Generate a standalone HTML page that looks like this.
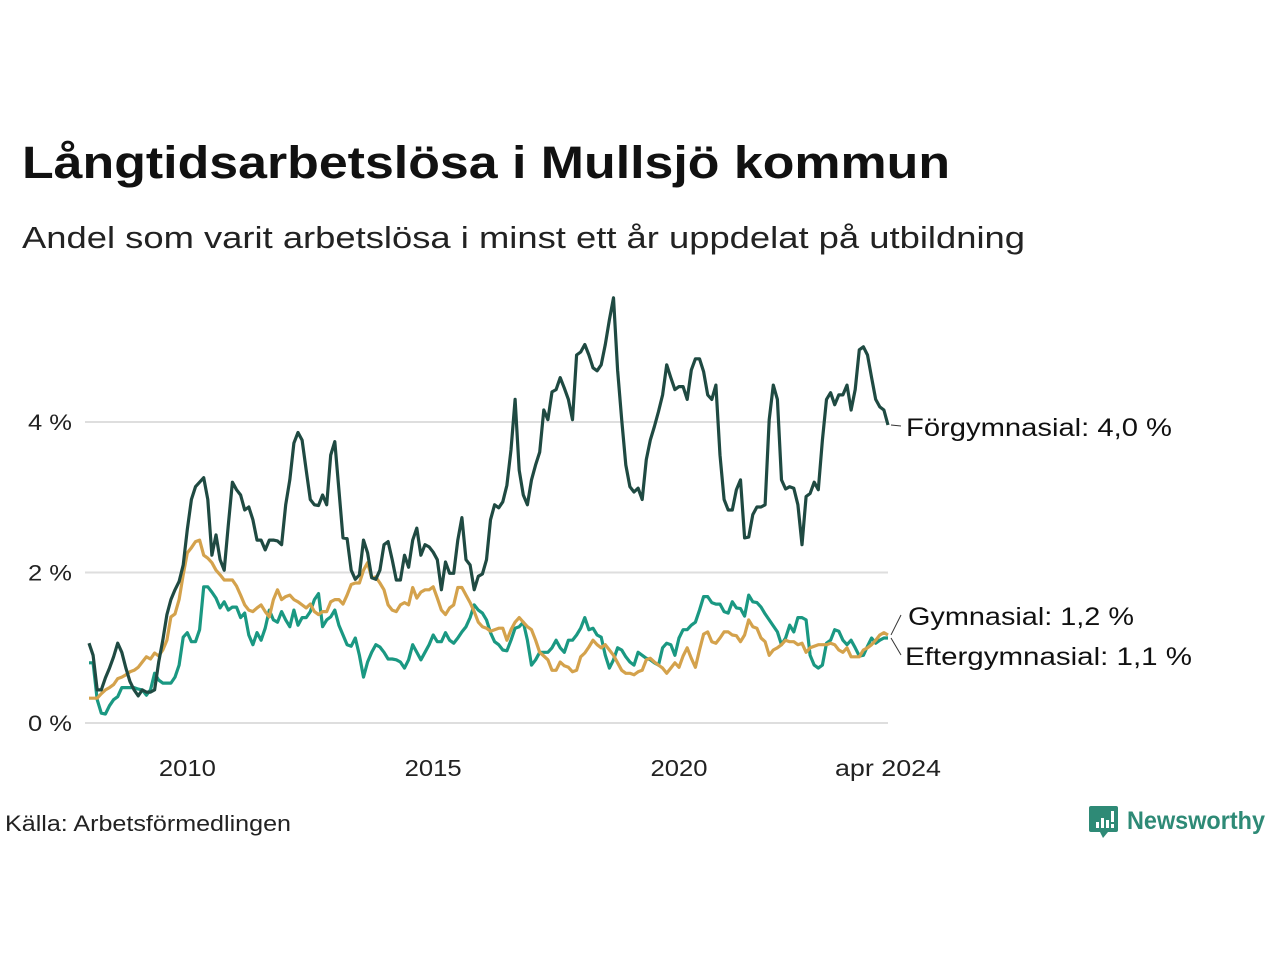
<!DOCTYPE html>
<html><head><meta charset="utf-8"><style>
html,body{margin:0;padding:0;background:#fff;}
svg{display:block;font-family:"Liberation Sans","DejaVu Sans",sans-serif;}
</style></head><body>
<svg id="chart" width="1280" height="960" viewBox="0 0 1280 960">
<text x="22" y="178" font-size="45" font-weight="bold" fill="#111" textLength="928" lengthAdjust="spacingAndGlyphs">Långtidsarbetslösa i Mullsjö kommun</text>
<text x="22" y="248" font-size="31" fill="#222" textLength="1003" lengthAdjust="spacingAndGlyphs">Andel som varit arbetslösa i minst ett år uppdelat på utbildning</text>
<g id="grid"></g>
<g id="yticks"></g>
<g id="xticks"></g>
<g id="lines"></g>
<g id="labels"></g>
<text x="5" y="831" font-size="22" fill="#222" textLength="286" lengthAdjust="spacingAndGlyphs">Källa: Arbetsförmedlingen</text>
<g>
<path d="M1091 806h25a2 2 0 0 1 2 2v22a2 2 0 0 1-2 2h-8l-5 6l-3-6h-9a2 2 0 0 1-2-2v-22a2 2 0 0 1 2-2z" fill="#2e8a76"/>
<rect x="1096" y="822" width="3" height="6" fill="#fff"/><rect x="1101" y="818" width="3" height="10" fill="#fff"/><rect x="1106" y="820" width="3" height="8" fill="#fff"/><rect x="1111" y="811" width="3" height="11" fill="#fff"/><rect x="1111" y="824" width="3" height="4" fill="#fff"/>
<text x="1127" y="829" font-size="25" font-weight="bold" fill="#2e8a76" textLength="138" lengthAdjust="spacingAndGlyphs">Newsworthy</text>
</g>
</svg>
<script>
const startYear = 2008;
const yTicks = [0, 2, 4];
const yTickLabels = ["0 %", "2 %", "4 %"];
const xTickMonths = [24, 84, 144, 195];
const xTickLabels = ["2010", "2015", "2020", "apr 2024"];
const forgymnasial = [1.06,0.90,0.44,0.44,0.60,0.73,0.88,1.06,0.94,0.73,0.55,0.44,0.36,0.44,0.41,0.41,0.44,0.81,1.10,1.44,1.64,1.77,1.88,2.10,2.57,2.97,3.14,3.20,3.26,2.97,2.23,2.50,2.17,2.03,2.63,3.20,3.10,3.03,2.83,2.87,2.70,2.43,2.43,2.30,2.43,2.43,2.42,2.37,2.90,3.23,3.72,3.86,3.76,3.36,2.97,2.90,2.89,3.03,2.90,3.56,3.74,3.10,2.46,2.45,2.03,1.91,1.97,2.43,2.26,1.93,1.91,2.03,2.37,2.41,2.17,1.90,1.90,2.23,2.07,2.43,2.59,2.23,2.37,2.34,2.27,2.17,1.77,2.14,1.99,1.99,2.43,2.73,2.17,2.10,1.77,1.95,1.98,2.17,2.70,2.90,2.86,2.94,3.16,3.63,4.30,3.36,3.03,2.90,3.23,3.43,3.60,4.16,4.03,4.40,4.43,4.59,4.45,4.30,4.03,4.89,4.93,5.03,4.89,4.72,4.68,4.76,5.03,5.36,5.65,4.69,4.03,3.43,3.14,3.07,3.12,2.97,3.50,3.76,3.94,4.14,4.36,4.76,4.59,4.43,4.47,4.47,4.30,4.69,4.84,4.84,4.67,4.36,4.30,4.49,3.56,2.97,2.83,2.83,3.10,3.23,2.46,2.47,2.77,2.87,2.87,2.90,4.03,4.49,4.30,3.23,3.11,3.14,3.12,2.90,2.37,3.01,3.05,3.20,3.10,3.76,4.30,4.39,4.23,4.36,4.36,4.49,4.16,4.43,4.96,5.00,4.89,4.59,4.30,4.20,4.16,3.96];
const eftergymnasial = [0.80,0.80,0.31,0.13,0.12,0.23,0.31,0.35,0.47,0.47,0.47,0.47,0.45,0.44,0.37,0.44,0.66,0.57,0.53,0.53,0.53,0.61,0.77,1.14,1.20,1.08,1.08,1.24,1.81,1.81,1.74,1.66,1.53,1.61,1.50,1.54,1.54,1.40,1.46,1.17,1.04,1.20,1.10,1.26,1.50,1.37,1.34,1.48,1.37,1.28,1.50,1.30,1.40,1.40,1.48,1.64,1.72,1.28,1.37,1.41,1.50,1.30,1.17,1.04,1.02,1.13,0.90,0.61,0.81,0.94,1.04,1.01,0.94,0.85,0.85,0.84,0.81,0.73,0.84,1.04,0.94,0.84,0.94,1.04,1.17,1.08,1.08,1.20,1.10,1.06,1.13,1.21,1.28,1.40,1.57,1.50,1.46,1.37,1.20,1.08,1.04,0.97,0.96,1.10,1.26,1.28,1.34,1.10,0.77,0.84,0.94,0.94,0.94,1.00,1.10,1.00,0.94,1.10,1.10,1.17,1.26,1.40,1.24,1.26,1.17,1.14,0.90,0.73,0.84,1.00,0.97,0.88,0.81,0.77,0.94,0.90,0.86,0.84,0.80,0.77,1.00,1.06,1.04,0.90,1.13,1.24,1.24,1.30,1.34,1.50,1.68,1.68,1.60,1.58,1.58,1.48,1.46,1.61,1.53,1.52,1.42,1.70,1.61,1.60,1.54,1.45,1.37,1.29,1.21,1.04,1.13,1.30,1.21,1.40,1.40,1.37,0.90,0.77,0.73,0.77,1.06,1.10,1.24,1.22,1.10,1.04,1.10,1.00,0.89,0.90,1.02,1.13,1.06,1.10,1.13,1.13];
const gymnasial = [0.33,0.33,0.33,0.39,0.44,0.47,0.51,0.59,0.61,0.64,0.68,0.70,0.74,0.81,0.88,0.85,0.93,0.89,0.97,1.10,1.41,1.45,1.64,1.97,2.26,2.33,2.41,2.43,2.23,2.19,2.13,2.03,1.97,1.90,1.90,1.90,1.82,1.70,1.57,1.50,1.48,1.53,1.57,1.48,1.41,1.64,1.77,1.64,1.68,1.70,1.64,1.61,1.57,1.53,1.58,1.48,1.44,1.48,1.48,1.61,1.64,1.64,1.58,1.70,1.84,1.86,1.86,2.03,2.13,1.93,1.94,1.86,1.77,1.57,1.50,1.48,1.57,1.60,1.57,1.80,1.66,1.74,1.77,1.77,1.81,1.66,1.50,1.44,1.53,1.57,1.80,1.80,1.70,1.60,1.48,1.34,1.28,1.26,1.22,1.24,1.26,1.26,1.10,1.24,1.34,1.40,1.34,1.28,1.24,1.10,0.94,0.89,0.84,0.70,0.70,0.81,0.76,0.74,0.68,0.70,0.88,0.93,1.01,1.10,1.04,1.00,1.04,0.97,0.90,0.80,0.70,0.66,0.66,0.64,0.68,0.70,0.84,0.86,0.81,0.77,0.73,0.66,0.73,0.80,0.74,0.89,1.00,0.86,0.74,0.97,1.18,1.21,1.08,1.06,1.13,1.21,1.21,1.17,1.16,1.08,1.17,1.37,1.28,1.26,1.13,1.08,0.90,0.97,1.00,1.04,1.10,1.08,1.08,1.04,1.06,0.94,1.00,1.02,1.04,1.04,1.04,1.06,1.04,0.97,0.94,1.00,0.88,0.88,0.88,0.97,1.00,1.04,1.10,1.17,1.20,1.17];
const seriesNames = ["Förgymnasial", "Gymnasial", "Eftergymnasial"];
const seriesColors = ["#1f4a42", "#d4a24c", "#1a9882"];

const NS = "http://www.w3.org/2000/svg";
const x0 = 89, x1 = 888, n = forgymnasial.length;
function xScale(i){ return x0 + i * (x1 - x0) / (n - 1); }
function yScale(v){ return 723 - v * 75.25; }
function mk(tag, attrs, parent){ const e = document.createElementNS(NS, tag); for (const k in attrs) e.setAttribute(k, attrs[k]); parent.appendChild(e); return e; }

const grid = document.getElementById('grid'), yt = document.getElementById('yticks'), xt = document.getElementById('xticks');
yTicks.forEach((t, k) => {
  const l = mk('line', {x1: 85, x2: 888, y1: yScale(t), y2: yScale(t), stroke: '#dedede', 'stroke-width': 2}, grid);
  
  
  const tx = mk('text', {x: 72, y: yScale(t) + 8, 'font-size': 22, fill: '#222', 'text-anchor': 'end', textLength: 44, lengthAdjust: 'spacingAndGlyphs'}, yt);
  tx.textContent = yTickLabels[k];
  
  
});
xTickMonths.forEach((m, k) => {
  const w = xTickLabels[k].length > 4 ? 106 : 57;
  const tx = mk('text', {x: xScale(m), y: 776, 'font-size': 23, fill: '#222', 'text-anchor': 'middle', textLength: w, lengthAdjust: 'spacingAndGlyphs'}, xt);
  tx.textContent = xTickLabels[k];
  
  
});

const lines = document.getElementById('lines');
const allSeries = [forgymnasial, gymnasial, eftergymnasial];
[2, 1, 0].forEach(s => {
  const d = allSeries[s].map((v, i) => (i ? 'L' : 'M') + xScale(i).toFixed(1) + ' ' + yScale(v).toFixed(1)).join('');
  const p = mk('path', {d: d, fill: 'none', stroke: seriesColors[s], 'stroke-width': 3.2, 'stroke-linejoin': 'round'}, lines);
  
  
});

const labels = document.getElementById('labels');
const labelY = [427, 616, 656];
const labelX = [906, 908, 905];
const labelW = [266, 226, 287];
allSeries.forEach((arr, s) => {
  const last = arr[arr.length - 1];
  const ex = xScale(n - 1) + 3, ey = yScale(last);
  const c = mk('line', {x1: ex, y1: ey, x2: 901, y2: labelY[s] - 1, stroke: '#333', 'stroke-width': 1}, labels);
  
  
  const tx = mk('text', {x: labelX[s], y: labelY[s] + 9, 'font-size': 25, fill: '#111', textLength: labelW[s], lengthAdjust: 'spacingAndGlyphs'}, labels);
  tx.textContent = seriesNames[s] + ': ' + last.toFixed(1).replace('.', ',') + ' %';
  
  
});
</script>
</body></html>
